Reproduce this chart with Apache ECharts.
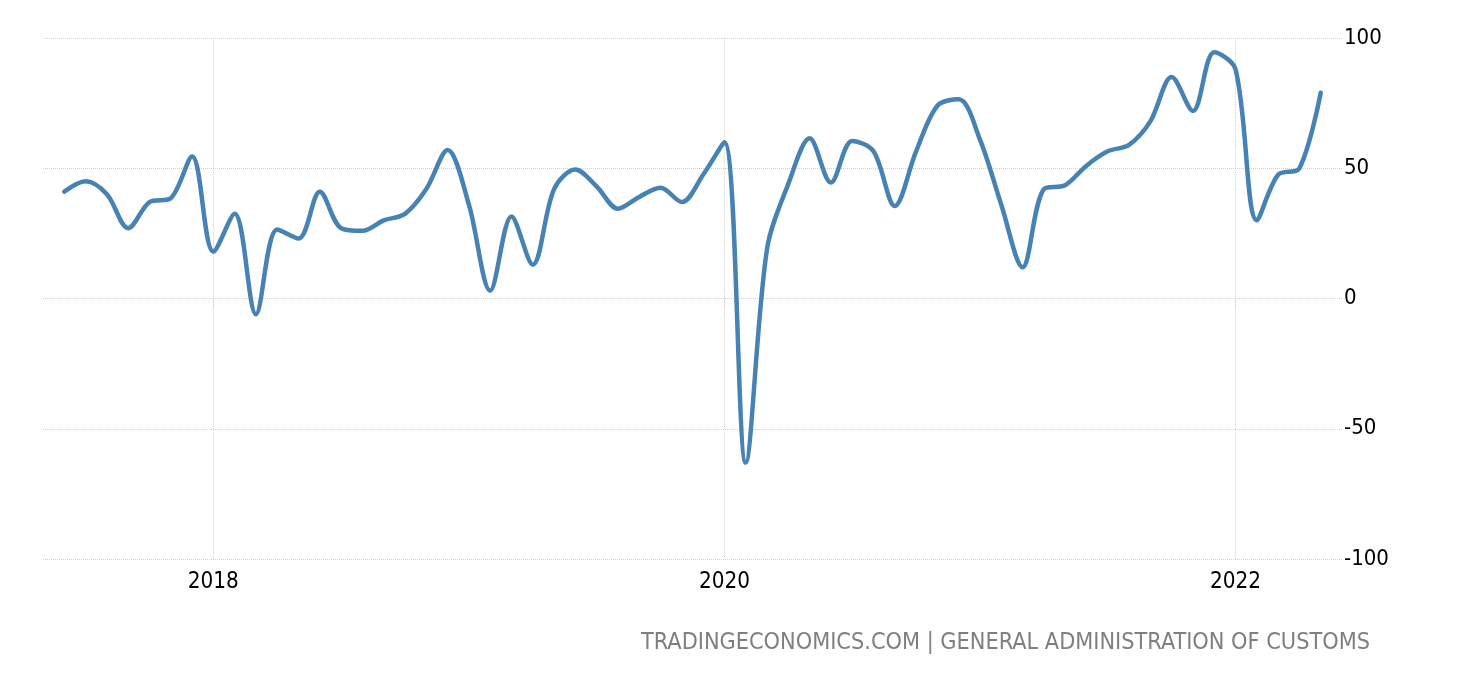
<!DOCTYPE html>
<html><head><meta charset="utf-8">
<style>html,body{margin:0;padding:0;background:#fff}#c{width:1460px;height:680px}</style>
<script src="https://cdn.jsdelivr.net/npm/echarts@6/dist/echarts.min.js"></script>
</head><body><div id="c"></div>
<script>
const months = ["2017-05","2017-06","2017-07","2017-08","2017-09","2017-10","2017-11","2017-12",
"2018-01","2018-02","2018-03","2018-04","2018-05","2018-06","2018-07","2018-08","2018-09","2018-10","2018-11","2018-12",
"2019-01","2019-02","2019-03","2019-04","2019-05","2019-06","2019-07","2019-08","2019-09","2019-10","2019-11","2019-12",
"2020-01","2020-02","2020-03","2020-04","2020-05","2020-06","2020-07","2020-08","2020-09","2020-10","2020-11","2020-12",
"2021-01","2021-02","2021-03","2021-04","2021-05","2021-06","2021-07","2021-08","2021-09","2021-10","2021-11","2021-12",
"2022-01","2022-02","2022-03","2022-04","2022-05","2022-06"];
const values = [null,41,45,40,27,37,38.5,54.5,
18,32.5,-6,26.5,23,41,27,26,30,32.5,42,57,
36,3,31.5,13,42,49.5,43,34.5,39,42.5,37,47.5,
60,-63,19,44,61.5,44.5,60.5,56.5,35.5,56.5,74,76.5,
61,36,12,42,43.5,51,56.5,59,68,85,72,94.5,
88,30,47.5,50,79,null];
const yearTicks = ["2018-01","2020-01","2022-01"];
const footer = "TRADINGECONOMICS.COM | GENERAL ADMINISTRATION OF CUSTOMS";
const FONT = '"DejaVu Sans Condensed","DejaVu Sans",sans-serif';
const isYear = (i, v) => yearTicks.includes(v);
const chart = echarts.init(document.getElementById('c'), null, {renderer:'canvas'});
chart.setOption({
  animation:false,
  backgroundColor:'#fff',
  textStyle:{fontFamily:FONT},
  title:{text:footer,right:90,top:631,padding:0,textStyle:{fontFamily:FONT,fontSize:23.25,fontWeight:'normal',color:'#7f7f7f'}},
  grid:{left:43,right:118,top:38,bottom:121},
  xAxis:{type:'category',data:months,boundaryGap:false,
    axisLine:{show:false},
    axisTick:{show:true,length:8,interval:isYear,lineStyle:{color:'#cfcfcf',type:'dotted',width:1}},
    splitLine:{show:true,interval:isYear,lineStyle:{color:'#cfcfcf',type:'dotted',width:1}},
    axisLabel:{interval:isYear,formatter:v=>v.slice(0,4),margin:12,color:'#000',fontSize:22.3,fontFamily:FONT}},
  yAxis:{type:'value',position:'right',min:-100,max:100,interval:50,
    axisLine:{show:false},axisTick:{show:false},
    splitLine:{show:true,lineStyle:{color:'#cfcfcf',type:'dotted',width:1}},
    axisLabel:{margin:2,color:'#000',fontSize:22,align:'left',fontFamily:FONT}},
  series:[{type:'line',data:values,smooth:0.33,showSymbol:false,connectNulls:false,
    lineStyle:{color:'#4682b4',width:4.5,cap:'round',join:'round'},itemStyle:{color:'#4682b4'}}]
});
</script></body></html>
